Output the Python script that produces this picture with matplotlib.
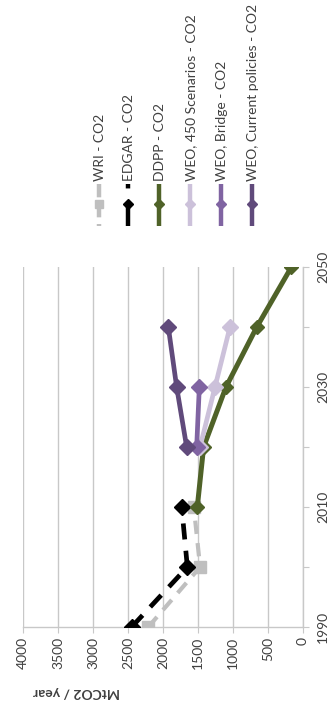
import matplotlib
matplotlib.use("Agg")
import matplotlib.pyplot as plt
import numpy as np

plt.rcParams['font.family'] = ['Lato', 'DejaVu Sans']

# ---------------- data ----------------
years_wri = [1990, 2000, 2010]
wri = [2210, 1470, 1560]

years_edgar = [1990, 2000, 2010]
edgar = [2448, 1652, 1733]

years_ddpp = [2010, 2020, 2030, 2040, 2050]
ddpp = [1510, 1420, 1100, 660, 165]

years_450 = [2020, 2030, 2040]
weo_450 = [1471, 1257, 1043]

years_bridge = [2020, 2030]
weo_bridge = [1519, 1481]

years_cur = [2020, 2030, 2040]
weo_cur = [1662, 1805, 1924]

series_names = ["WRI - CO2", "EDGAR - CO2", "DDPP - CO2",
                "WEO, 450 Scenarios - CO2", "WEO, Bridge - CO2",
                "WEO, Current policies - CO2"]

value_ticks = [0, 500, 1000, 1500, 2000, 2500, 3000, 3500, 4000]
year_ticks = [1990, 2000, 2010, 2020, 2030, 2040, 2050]
year_labels = ["1990", "", "2010", "", "2030", "", "2050"]
ylabel_text = "MtCO2 / year"

# ---------------- styles ----------------
C_WRI = "#bfbfbf"
C_EDGAR = "#000000"
C_DDPP = "#4f6228"
C_450 = "#ccc1da"
C_BRIDGE = "#8064a2"
C_CUR = "#604a7b"
GRID = "#c8c8c8"
TXT = "#404040"
FS = 10

W, H = 336, 706
fig = plt.figure(figsize=(W / 100, H / 100), dpi=100)
fig.patch.set_facecolor("white")

# plot area (chart drawn rotated 90 deg CCW)
left, right = 23, 303
top, bottom = 267, 627
ax = fig.add_axes([left / W, 1 - bottom / H, (right - left) / W, (bottom - top) / H])
ax.set_xlim(4000, 0)
ax.set_ylim(1990, 2050)

ax.plot(wri, years_wri, color=C_WRI, lw=3.0, ls=(0, (3.2, 2.2)),
        marker="s", ms=8.5, mec=C_WRI, mfc=C_WRI, zorder=3)
ax.plot(edgar, years_edgar, color=C_EDGAR, lw=3.4, ls=(0, (3.4, 2.4)),
        marker="D", ms=8.5, mec=C_EDGAR, mfc=C_EDGAR, zorder=4)
ax.plot(ddpp, years_ddpp, color=C_DDPP, lw=3.6, marker="D", ms=7.5,
        mec=C_DDPP, mfc=C_DDPP, zorder=5)
ax.plot(weo_450, years_450, color=C_450, lw=3.4, marker="D", ms=8.5,
        mec=C_450, mfc=C_450, zorder=6)
ax.plot(weo_bridge, years_bridge, color=C_BRIDGE, lw=3.4, marker="D", ms=8.5,
        mec=C_BRIDGE, mfc=C_BRIDGE, zorder=7)
ax.plot(weo_cur, years_cur, color=C_CUR, lw=3.4, marker="D", ms=8.5,
        mec=C_CUR, mfc=C_CUR, zorder=8)

ax.set_xticks(value_ticks)
ax.set_xticklabels([str(v) for v in value_ticks], rotation=90,
                   fontsize=FS, color=TXT)
ax.grid(axis="x", color=GRID, lw=1.0)
ax.set_axisbelow(True)

ax.yaxis.tick_right()
ax.set_yticks(year_ticks)
ax.set_yticklabels(year_labels, rotation=90, fontsize=FS, color=TXT, va="center")

for s in ["top", "left"]:
    ax.spines[s].set_visible(False)
for s in ["bottom", "right"]:
    ax.spines[s].set_color(GRID)
    ax.spines[s].set_linewidth(1.0)
ax.tick_params(axis="x", length=4, color=GRID, pad=3)
ax.tick_params(axis="y", length=4, color=GRID, pad=6)

# upside-down axis title
fig.text(76 / W, 1 - 692 / H, ylabel_text, rotation=180, ha="center",
         va="center", fontsize=FS, fontweight="bold", color=TXT)

# ---------------- legend (manual, rotated) ----------------
lax = fig.add_axes([0, 0, 1, 1])
lax.set_xlim(0, W)
lax.set_ylim(H, 0)
lax.axis("off")

leg_x = [99, 128, 159, 190, 221, 252]
leg_styles = [
    dict(color=C_WRI, lw=3.2, ls=(0, (3.0, 1.5)), marker="s", ms=6),
    dict(color=C_EDGAR, lw=3.2, ls=(0, (1, 3.5, 9, 2)), marker="D", ms=5),
    dict(color=C_DDPP, lw=3.2, ls="-", marker="D", ms=5),
    dict(color=C_450, lw=3.2, ls="-", marker="D", ms=5),
    dict(color=C_BRIDGE, lw=3.2, ls="-", marker="D", ms=5),
    dict(color=C_CUR, lw=3.2, ls="-", marker="D", ms=5),
]
for x, name, st in zip(leg_x, series_names, leg_styles):
    st = dict(st)
    marker = st.pop("marker")
    ms = st.pop("ms")
    lax.plot([x, x], [184, 226], solid_capstyle="butt", dash_capstyle="butt", **st)
    lax.plot([x], [204], marker=marker, ms=ms, color=st["color"], ls="none")
    lax.text(x + 1, 181, name, rotation=90, ha="center", va="bottom",
             fontsize=FS, color=TXT)

fig.savefig("out.png", dpi=100)
